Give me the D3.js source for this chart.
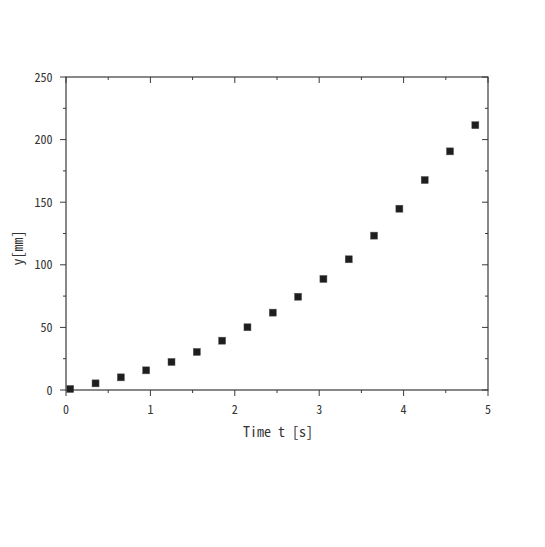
<!DOCTYPE html>
<html><head><meta charset="utf-8">
<script src="https://cdn.jsdelivr.net/npm/d3@7"></script>
<style>body{margin:0;background:#fff}text{font-family:"Noto Sans Mono CJK JP","Noto Sans CJK JP","Liberation Mono",monospace;fill:#333;font-weight:300}</style>
</head><body><svg id="c" width="545" height="547"></svg>
<script>
const timeValues = [0.05,0.35,0.65,0.95,1.25,1.55,1.85,2.15,2.45,2.75,3.05,3.35,3.65,3.95,4.25,4.55,4.85];
const yValues = [0.8,5.3,10.1,15.7,22.4,30.4,39.4,50.1,61.8,74.5,88.7,104.4,123.3,144.8,167.7,190.6,211.5];
const xTicks = [0,1,2,3,4,5];
const yTicks = [0,50,100,150,200,250];
const xLabel = "Time t [s]";
const yLabel = "y[mm]";

const svg = d3.select("#c");
const L=66,R=488,T=77,B=390;
const x = d3.scaleLinear().domain([0,5]).range([L,R]);
const y = d3.scaleLinear().domain([0,250]).range([B,T]);
const xMinor = d3.range(0,5.01,0.5), yMinor = d3.range(0,250.1,25);
const col="#3a3a3a";
const g = svg.append("g");
g.append("rect").attr("x",L).attr("y",T).attr("width",R-L).attr("height",B-T).attr("fill","none").attr("stroke",col).attr("stroke-width",1.2);
function isMajorX(v){return Math.abs(v-Math.round(v))<1e-6;}
function isMajorY(v){return Math.abs(v%50)<1e-6;}
xMinor.forEach(v=>{const len=isMajorX(v)?6:3;const px=x(v);
  g.append("line").attr("x1",px).attr("x2",px).attr("y1",B).attr("y2",B+len).attr("stroke",col);
  g.append("line").attr("x1",px).attr("x2",px).attr("y1",T).attr("y2",T+len).attr("stroke",col);});
yMinor.forEach(v=>{const len=isMajorY(v)?6:3;const py=y(v);
  g.append("line").attr("x1",L).attr("x2",L-len).attr("y1",py).attr("y2",py).attr("stroke",col);
  g.append("line").attr("x1",R).attr("x2",R-len).attr("y1",py).attr("y2",py).attr("stroke",col);});
xTicks.forEach(v=>g.append("text").attr("x",x(v)).attr("y",B+23.5).attr("text-anchor","middle").attr("font-size",12).text(v));
yTicks.forEach(v=>g.append("text").attr("x",L-13.5).attr("y",y(v)+4.5).attr("text-anchor","end").attr("font-size",12).text(v));
g.append("text").attr("x",278).attr("y",437).attr("text-anchor","middle").attr("font-size",14).text(xLabel);
g.append("text").attr("transform","translate(23,248) rotate(-90)").attr("text-anchor","middle").attr("font-size",14).text(yLabel);
g.selectAll("rect.pt").data(timeValues).enter().append("rect").attr("class","pt")
  .attr("x",(d)=>x(d)-3.5).attr("y",(d,i)=>y(yValues[i])-3.5).attr("width",7).attr("height",7)
  .attr("fill","#1e1e1e").attr("stroke","#555").attr("stroke-width",0.5);
</script></body></html>
